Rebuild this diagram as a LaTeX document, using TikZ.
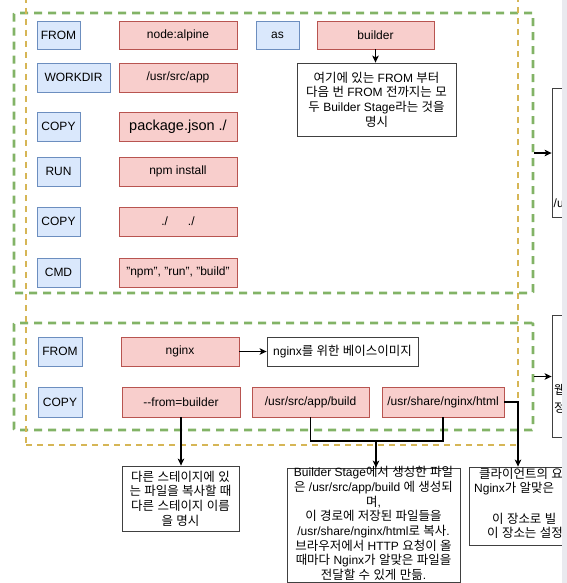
\documentclass[tikz,border=0pt]{standalone}
\usepackage{fontspec}
\setmainfont{Liberation Sans}
\newfontfamily\krfont{Noto Sans CJK KR}[Scale=1.04]
\newfontfamily\latinfont{Liberation Sans}
\usetikzlibrary{arrows.meta}
\XeTeXinterchartokenstate=1
\newXeTeXintercharclass\krclass
\newcount\krcnt
\krcnt="AC00
\loop \XeTeXcharclass\krcnt=\krclass \advance\krcnt by 1 \ifnum\krcnt<"D7A4 \repeat
\XeTeXinterchartoks 0 \krclass = {\krfont}
\XeTeXinterchartoks 4095 \krclass = {\krfont}
\XeTeXinterchartoks \krclass 0 = {\latinfont}
\XeTeXinterchartoks \krclass 4095 = {\latinfont}
\definecolor{bfill}{HTML}{DAE8FC}
\definecolor{bdraw}{HTML}{6C8EBF}
\definecolor{rfill}{HTML}{F8CECC}
\definecolor{rdraw}{HTML}{B85450}
\definecolor{gcol}{HTML}{82B366}
\definecolor{ycol}{HTML}{D6B656}
\definecolor{scroll}{RGB}{234,234,239}
\tikzset{
  base/.style={draw, line width=0.8pt, inner sep=0pt, font=\fontsize{12}{14.7}\selectfont},
  bluebox/.style={base, fill=bfill, draw=bdraw},
  redbox/.style={base, fill=rfill, draw=rdraw},
  notebox/.style={base, draw=black!75, fill=white, align=center},
  plaintext/.style={inner sep=0pt, font=\fontsize{12}{14.7}\selectfont},
  grp/.style={draw=gcol, line width=2.6pt, dash pattern=on 8pt off 6pt, rounded corners=1pt, inner sep=0pt},
  outerbox/.style={draw=ycol, line width=1.8pt, dash pattern=on 6pt off 5pt, inner sep=0pt},
  conn/.style={line width=1.2pt, -{Stealth[length=7pt,width=6.5pt,inset=1.8pt]}},
  wire/.style={line width=1.2pt},
}
\begin{document}
\begin{tikzpicture}[x=1pt,y=-1pt]
\useasboundingbox (0,0) rectangle (566,583);
% group frames
\node[grp, minimum width=519, minimum height=280] (g1) at (273.5,153) {};
\node[grp, minimum width=519, minimum height=107] (g2) at (273.5,376.5) {};
\node[outerbox, minimum width=492, minimum height=447] (outer) at (272,221.5) {};
% builder stage
\node[bluebox, minimum width=43, minimum height=28] (from1) at (58.5,35) {FROM};
\node[bluebox, minimum width=73, minimum height=29] (workdir) at (73.5,77.5) {WORKDIR};
\node[bluebox, minimum width=43, minimum height=29] (copy1) at (58.5,126.5) {COPY};
\node[bluebox, minimum width=43, minimum height=29] (run) at (58.5,171.5) {RUN};
\node[bluebox, minimum width=43, minimum height=29] (copy2) at (58.5,221.5) {COPY};
\node[bluebox, minimum width=43, minimum height=29] (cmd) at (58.5,272.5) {CMD};
\node[bluebox, minimum width=43, minimum height=28] (as) at (277.5,35) {as};
\node[redbox, minimum width=118, minimum height=28] (alpine) at (178,35) {node:alpine};
\node[redbox, minimum width=118, minimum height=29] (appdir) at (178,77.5) {/usr/src/app};
\node[redbox, minimum width=118, minimum height=29, font=\fontsize{14.5}{17}\selectfont] (pkg) at (178,126.5) {package.json ./};
\node[redbox, minimum width=118, minimum height=29] (npmi) at (178,171.5) {npm install};
\node[redbox, minimum width=118, minimum height=29] (dots) at (178,221.5) {./\hspace{20pt}./};
\node[redbox, minimum width=118, minimum height=29] (npmrun) at (178,272.5) {"npm", "run", "build"};
\node[redbox, minimum width=117, minimum height=28] (builder) at (375.5,35) {builder};
\node[notebox, minimum width=159, minimum height=73] (note1) at (376.5,99.5)
  {여기에 있는 FROM 부터\\다음 번 FROM 전까지는 모\\두 Builder Stage라는 것을\\명시};
% run stage
\node[bluebox, minimum width=44, minimum height=29] (from2) at (60,351.5) {FROM};
\node[bluebox, minimum width=44, minimum height=30] (copy3) at (60,402) {COPY};
\node[redbox, minimum width=118, minimum height=29] (nginx) at (180,351.5) {nginx};
\node[redbox, minimum width=118, minimum height=30] (frombuilder) at (181,402) {-{}-from=builder};
\node[redbox, minimum width=117, minimum height=30] (build) at (310.5,402) {/usr/src/app/build};
\node[redbox, minimum width=122, minimum height=30] (html) at (443,402) {/usr/share/nginx/html};
\node[notebox, minimum width=151, minimum height=29] (nginxnote) at (342.5,351.5) {nginx를 위한 베이스이미지};
\node[notebox, minimum width=117, minimum height=65] (note2) at (180.5,498.5)
  {다른 스테이지에 있\\는 파일을 복사할 때\\다른 스테이지 이름\\을 명시};
\node[notebox, minimum width=173, minimum height=114] (note3) at (373.5,525) {};
\node[plaintext, align=center] (note3txt) at (373.5,523.5)
  {Builder Stage에서 생성한 파일\\은 /usr/src/app/build 에 생성되\\며,\\이 경로에 저장된 파일들을\\/usr/share/nginx/html로 복사.\\브라우저에서 HTTP 요청이 올\\때마다 Nginx가 알맞은 파일을\\전달할 수 있게 만듦.};
\node[notebox, minimum width=120, minimum height=78] (note4) at (529,506) {};
\node[plaintext, anchor=west] (n4a) at (479,474) {클라이언트의 요};
\node[plaintext, anchor=west] (n4b) at (474,489) {Nginx가 알맞은};
\node[plaintext, anchor=west] (n4c) at (492,519) {이 장소로 빌};
\node[plaintext, anchor=west] (n4d) at (487,533) {이 장소는 설정};
% right-hand boxes
\node[notebox, minimum width=80, minimum height=129] (right1) at (592,152.5) {};
\node[plaintext, anchor=west] (r1txt) at (553.5,203) {/u};
\node[notebox, minimum width=80, minimum height=122] (right2) at (592,376) {};
\node[plaintext, anchor=west] (r2a) at (554,390) {웹};
\node[plaintext, anchor=west] (r2b) at (554,408) {정};
% connectors
\draw[conn] (builder.south) -- (builder.south |- note1.north);
\draw[conn] (nginx.east) -- (nginxnote.west);
\draw[conn] (frombuilder.south) -- (frombuilder.south |- note2.north);
\coordinate (join) at (376,441);
\draw[wire] (build.south) |- (join) -| (html.south);
\draw[conn] (join) -- (join |- note3.north);
\coordinate (elbow) at (518,402);
\draw[conn] (html.east) -- (elbow) -- (elbow |- note4.north);
\draw[conn] (g1.east) -- (g1.east -| right1.west);
\draw[conn] (g2.east) -- (g2.east -| right2.west);
% scrollbar strip
\fill[scroll] (562,-1) rectangle (567,584);
\end{tikzpicture}
\end{document}
